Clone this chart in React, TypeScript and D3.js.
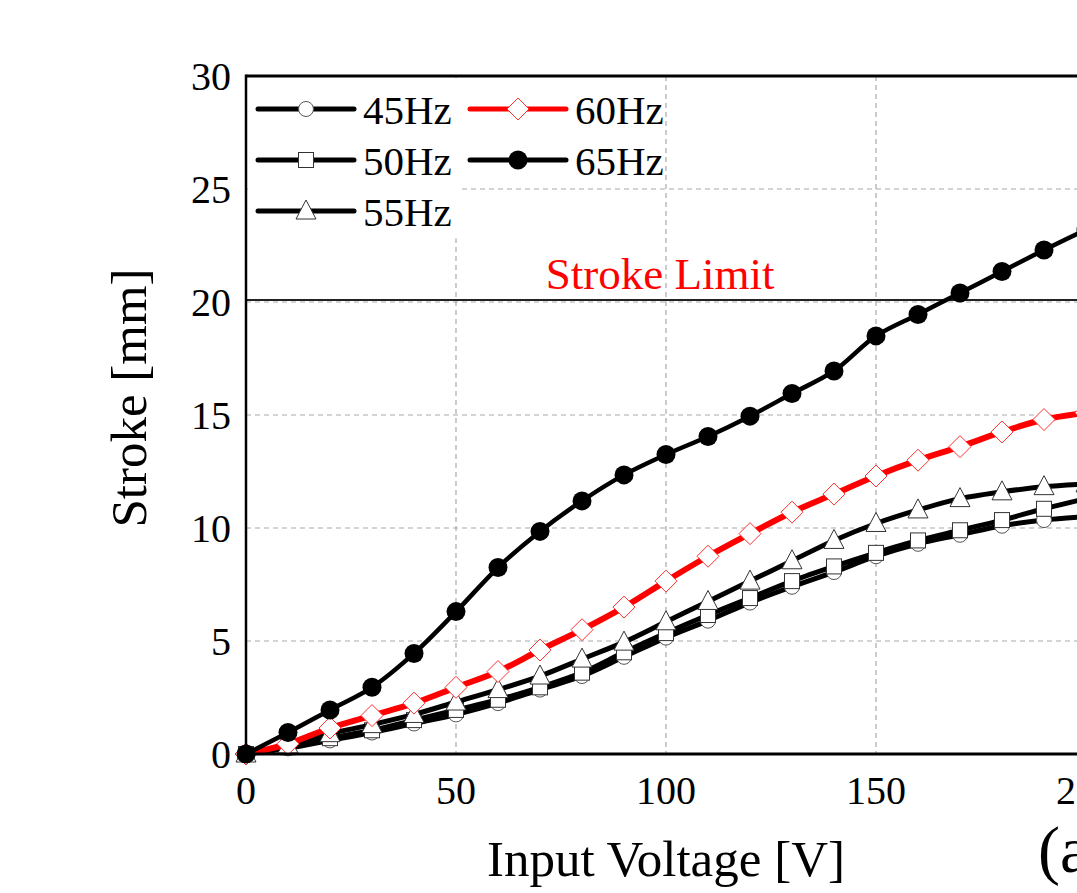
import React from "react";
import * as d3 from "d3";

const voltages = [0, 10, 20, 30, 40, 50, 60, 70, 80, 90, 100, 110, 120, 130, 140, 150, 160, 170, 180, 190, 200];
const s45 = [0, 0.25, 0.6, 0.95, 1.35, 1.75, 2.25, 2.85, 3.45, 4.3, 5.15, 5.9, 6.7, 7.4, 8.05, 8.75, 9.3, 9.7, 10.1, 10.35, 10.5];
const s50 = [0, 0.3, 0.7, 1.05, 1.5, 1.95, 2.4, 2.95, 3.6, 4.5, 5.35, 6.15, 6.9, 7.65, 8.3, 8.9, 9.45, 9.9, 10.35, 10.85, 11.3];
const s55 = [0, 0.4, 0.9, 1.3, 1.75, 2.3, 2.85, 3.45, 4.2, 4.95, 5.85, 6.75, 7.65, 8.55, 9.45, 10.2, 10.8, 11.3, 11.6, 11.83, 11.95];
const s60 = [0, 0.45, 1.15, 1.7, 2.25, 2.95, 3.65, 4.6, 5.5, 6.5, 7.65, 8.75, 9.75, 10.7, 11.5, 12.3, 13.0, 13.6, 14.25, 14.8, 15.1];
const s65 = [0, 0.95, 1.95, 2.95, 4.45, 6.3, 8.25, 9.85, 11.2, 12.35, 13.25, 14.05, 14.95, 15.95, 16.95, 18.5, 19.45, 20.4, 21.35, 22.3, 23.2];

const xTicks = [0, 50, 100, 150, 200];
const yTicks = [0, 5, 10, 15, 20, 25, 30];
const strokeLimit = 20;

type Series = { name: string; values: number[]; color: string; marker: string; width: number };
const seriesList: Series[] = [
  { name: "45Hz", values: s45, color: "#000", marker: "circleOpen", width: 5 },
  { name: "50Hz", values: s50, color: "#000", marker: "square", width: 5 },
  { name: "55Hz", values: s55, color: "#000", marker: "triangle", width: 5 },
  { name: "60Hz", values: s60, color: "#ff0000", marker: "diamond", width: 6 },
  { name: "65Hz", values: s65, color: "#000", marker: "circleFilled", width: 4.5 },
];

const W = 1077;
const H = 893;
const left = 246;
const top = 76;
const bottom = 754;
const xScale = d3.scaleLinear().domain([0, 200]).range([left, left + 840]);
const yScale = d3.scaleLinear().domain([0, 30]).range([bottom, top]);
const FONT = "'Liberation Serif', 'Times New Roman', serif";

function Marker({ type, x, y }: { type: string; x: number; y: number }) {
  if (type === "circleOpen")
    return <circle cx={x} cy={y} r={7.5} fill="#fff" stroke="#555" strokeWidth={1} />;
  if (type === "circleFilled") return <circle cx={x} cy={y} r={9.5} fill="#000" />;
  if (type === "square")
    return <rect x={x - 7.5} y={y - 7.5} width={15} height={15} fill="#fff" stroke="#333" strokeWidth={1} />;
  if (type === "triangle")
    return (
      <path
        d={`M${x},${y - 11}L${x + 10},${y + 8}L${x - 10},${y + 8}Z`}
        fill="#fff"
        stroke="#333"
        strokeWidth={1}
      />
    );
  if (type === "diamond")
    return (
      <path
        d={`M${x},${y - 11}L${x + 11},${y}L${x},${y + 11}L${x - 11},${y}Z`}
        fill="#fff"
        stroke="#ff3030"
        strokeWidth={1}
      />
    );
  return null;
}

export default function App() {
  const line = d3
    .line<number>()
    .x((_, i) => xScale(voltages[i]))
    .y((d) => yScale(d))
    .curve(d3.curveCatmullRom.alpha(0.5));

  const legendRows = [
    { s: seriesList[0], col: 0, row: 0 },
    { s: seriesList[1], col: 0, row: 1 },
    { s: seriesList[2], col: 0, row: 2 },
    { s: seriesList[3], col: 1, row: 0 },
    { s: seriesList[4], col: 1, row: 1 },
  ];

  return (
    <svg
      width={W}
      height={H}
      style={{ position: "absolute", left: 0, top: 0, background: "#fff" }}
      fontFamily={FONT}
    >
      <rect x={0} y={0} width={W} height={H} fill="#fff" />
      {/* grid */}
      {xTicks
        .filter((t) => t > 0)
        .map((t) => (
          <line
            key={"gx" + t}
            x1={xScale(t)}
            x2={xScale(t)}
            y1={yScale(30)}
            y2={yScale(0)}
            stroke="#aaa"
            strokeWidth={1.2}
            strokeDasharray="5,4"
          />
        ))}
      {yTicks
        .filter((t) => t > 0 && t < 30)
        .map((t) => (
          <line
            key={"gy" + t}
            x1={xScale(0)}
            x2={xScale(200)}
            y1={yScale(t)}
            y2={yScale(t)}
            stroke="#aaa"
            strokeWidth={1.2}
            strokeDasharray="5,4"
          />
        ))}
      {/* legend background */}
      <rect x={xScale(0) + 2} y={yScale(30) + 2} width={xScale(100) - xScale(0) - 3} height={yScale(25) - yScale(30) - 3} fill="#fff" />
      <rect x={xScale(0) + 2} y={yScale(30) + 2} width={xScale(51.5) - xScale(0) - 3} height={yScale(22.9) - yScale(30)} fill="#fff" />

      {/* stroke limit */}
      <line
        x1={xScale(0)}
        x2={xScale(200)}
        y1={yScale(strokeLimit) - 2}
        y2={yScale(strokeLimit) - 2}
        stroke="#222"
        strokeWidth={2}
      />
      <text x={xScale(98.6)} y={yScale(strokeLimit) - 13} fontSize={45} fill="#ff0000" textAnchor="middle">
        Stroke Limit
      </text>

      {/* series */}
      {seriesList.map((s) => (
        <g key={s.name}>
          <path d={line(s.values) || ""} fill="none" stroke={s.color} strokeWidth={s.width} />
          {s.values.map((v, i) => (
            <Marker key={i} type={s.marker} x={xScale(voltages[i])} y={yScale(v)} />
          ))}
        </g>
      ))}

      {/* axes frame */}
      <line x1={xScale(0)} x2={xScale(0)} y1={yScale(30) - 1.5} y2={yScale(0) + 1.5} stroke="#000" strokeWidth={2.5} />
      <line x1={xScale(0)} x2={xScale(200)} y1={yScale(0)} y2={yScale(0)} stroke="#000" strokeWidth={3} />
      <line x1={xScale(0)} x2={xScale(200)} y1={yScale(30)} y2={yScale(30)} stroke="#000" strokeWidth={3} />

      {/* y ticks */}
      {yTicks.map((t) => (
        <text key={"yt" + t} x={xScale(0) - 15} y={yScale(t)} dy="0.35em" fontSize={40} textAnchor="end" fill="#000">
          {t}
        </text>
      ))}
      {/* x ticks */}
      {xTicks.map((t) => (
        <text key={"xt" + t} x={xScale(t)} y={yScale(0) + 50} fontSize={40} textAnchor="middle" fill="#000">
          {t}
        </text>
      ))}

      {/* axis titles */}
      <text x={xScale(100)} y={876} fontSize={51} textAnchor="middle" fill="#000">
        Input Voltage [V]
      </text>
      <text transform={`translate(146,${398}) rotate(-90)`} fontSize={51} textAnchor="middle" fill="#000">
        Stroke [mm]
      </text>
      <text x={1038} y={872} fontSize={66} fill="#000">
        (a)
      </text>

      {/* legend */}
      {legendRows.map(({ s, col, row }) => {
        const lx = col === 0 ? 258 : 470;
        const ly = 109 + row * 51;
        return (
          <g key={"lg" + s.name}>
            <line x1={lx} x2={lx + 96} y1={ly} y2={ly} stroke={s.color} strokeWidth={5} strokeLinecap="round" />
            <Marker type={s.marker} x={lx + 48} y={ly} />
            <text x={lx + 105} y={ly} dy="0.36em" fontSize={41} fill="#000">
              {s.name}
            </text>
          </g>
        );
      })}
    </svg>
  );
}
